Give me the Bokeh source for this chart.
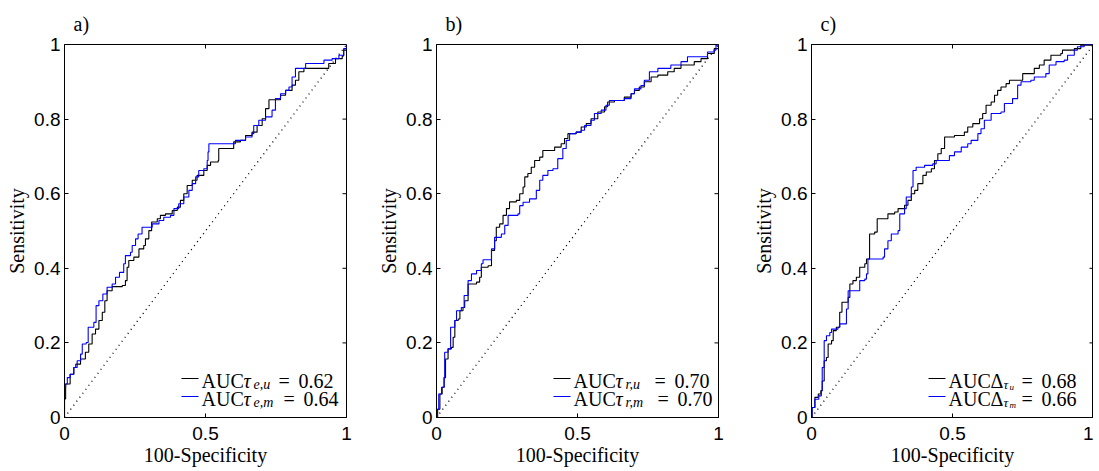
import math
from bokeh.plotting import figure
from bokeh.layouts import row
from bokeh.models import Range1d, FixedTicker, Label, Arrow
from bokeh.embed import file_html
from bokeh.resources import INLINE

# ---------------- data ----------------
x_ticks = [0, 0.5, 1]
x_tick_labels = ["0", "0.5", "1"]
y_ticks = [0, 0.2, 0.4, 0.6, 0.8, 1]
y_tick_labels = ["0", "0.2", "0.4", "0.6", "0.8", "1"]
chance_x = [0, 1]
chance_y = [0, 1]

panel_labels = ["a)", "b)", "c)"]
x_label = "100-Specificity"
y_label = "Sensitivity"

# panel a
a_u_fpr = [0, 0, 0.004, 0.01, 0.02, 0.033, 0.04, 0.057, 0.074, 0.086, 0.098, 0.11, 0.122, 0.134, 0.143,
           0.151, 0.169, 0.205, 0.216, 0.222, 0.228, 0.246, 0.264, 0.281, 0.287, 0.299, 0.309, 0.329, 0.34,
           0.358, 0.382, 0.4, 0.411, 0.423, 0.435, 0.453, 0.47, 0.494, 0.506, 0.518, 0.545, 0.547, 0.595,
           0.6, 0.624, 0.642, 0.665, 0.683, 0.701, 0.713, 0.725, 0.754, 0.766, 0.784, 0.807, 0.819, 0.831,
           0.849, 0.92, 0.937, 0.961, 0.985, 0.99, 1]
a_u_tpr = [0, 0.05, 0.09, 0.09, 0.116, 0.134, 0.143, 0.157, 0.175, 0.197, 0.224, 0.237, 0.26, 0.282, 0.313,
           0.34, 0.351, 0.354, 0.367, 0.403, 0.421, 0.43, 0.452, 0.461, 0.479, 0.501, 0.524, 0.533, 0.542,
           0.546, 0.555, 0.564, 0.582, 0.6, 0.622, 0.636, 0.649, 0.662, 0.676, 0.685, 0.689, 0.721, 0.721,
           0.739, 0.743, 0.756, 0.765, 0.783, 0.801, 0.828, 0.852, 0.852, 0.864, 0.877, 0.891, 0.904, 0.927,
           0.936, 0.936, 0.949, 0.962, 0.969, 0.985, 1]
a_m_fpr = [0, 0, 0.004, 0.01, 0.02, 0.033, 0.045, 0.057, 0.063, 0.077, 0.084, 0.104, 0.112, 0.122, 0.136,
           0.151, 0.169, 0.181, 0.195, 0.21, 0.216, 0.234, 0.24, 0.252, 0.261, 0.275, 0.311, 0.335, 0.352,
           0.376, 0.388, 0.405, 0.423, 0.441, 0.453, 0.465, 0.476, 0.494, 0.506, 0.509, 0.512, 0.595, 0.606,
           0.642, 0.665, 0.671, 0.689, 0.713, 0.736, 0.748, 0.766, 0.784, 0.796, 0.807, 0.819, 0.855, 0.908,
           0.92, 0.949, 0.973, 0.99, 1]
a_m_tpr = [0, 0.08, 0.09, 0.107, 0.116, 0.134, 0.152, 0.17, 0.197, 0.201, 0.242, 0.255, 0.3, 0.313, 0.331,
           0.349, 0.358, 0.376, 0.389, 0.412, 0.434, 0.443, 0.461, 0.479, 0.492, 0.51, 0.519, 0.528, 0.537,
           0.542, 0.56, 0.573, 0.591, 0.609, 0.627, 0.645, 0.662, 0.667, 0.689, 0.712, 0.734, 0.734, 0.743,
           0.752, 0.761, 0.783, 0.797, 0.806, 0.824, 0.855, 0.868, 0.877, 0.886, 0.913, 0.936, 0.949, 0.949,
           0.958, 0.962, 0.971, 0.989, 1]

# panel b
b_u_fpr = [0, 0.004, 0.012, 0.02, 0.027, 0.032, 0.041, 0.053, 0.059, 0.065, 0.077, 0.083, 0.094, 0.1, 0.112,
           0.142, 0.153, 0.159, 0.183, 0.195, 0.206, 0.212, 0.224, 0.236, 0.248, 0.259, 0.283, 0.295, 0.307,
           0.313, 0.324, 0.336, 0.348, 0.366, 0.377, 0.407, 0.419, 0.442, 0.454, 0.466, 0.495, 0.513, 0.531,
           0.548, 0.572, 0.596, 0.607, 0.631, 0.666, 0.69, 0.702, 0.719, 0.737, 0.761, 0.785, 0.82, 0.843,
           0.867, 0.914, 0.938, 0.961, 0.985, 1]
b_u_tpr = [0, 0.022, 0.063, 0.081, 0.107, 0.157, 0.184, 0.188, 0.215, 0.26, 0.264, 0.286, 0.295, 0.313, 0.358,
           0.363, 0.376, 0.403, 0.407, 0.448, 0.474, 0.51, 0.519, 0.542, 0.56, 0.578, 0.582, 0.6, 0.618,
           0.645, 0.654, 0.671, 0.689, 0.698, 0.716, 0.716, 0.725, 0.734, 0.748, 0.761, 0.765, 0.779, 0.788,
           0.801, 0.819, 0.833, 0.846, 0.85, 0.859, 0.868, 0.877, 0.886, 0.9, 0.913, 0.918, 0.927, 0.936,
           0.945, 0.954, 0.962, 0.976, 0.989, 1]
b_m_fpr = [0, 0.002, 0.008, 0.018, 0.027, 0.029, 0.041, 0.05, 0.065, 0.071, 0.088, 0.098, 0.112, 0.124, 0.142,
           0.159, 0.165, 0.189, 0.195, 0.206, 0.23, 0.242, 0.254, 0.289, 0.295, 0.307, 0.33, 0.354, 0.366,
           0.377, 0.395, 0.413, 0.43, 0.448, 0.46, 0.472, 0.495, 0.513, 0.525, 0.548, 0.56, 0.584, 0.601,
           0.613, 0.666, 0.69, 0.702, 0.725, 0.737, 0.755, 0.785, 0.831, 0.867, 0.89, 0.938, 0.961, 0.985,
           0.991, 1]
b_m_tpr = [0, 0.022, 0.063, 0.081, 0.107, 0.175, 0.184, 0.242, 0.26, 0.286, 0.295, 0.327, 0.367, 0.385, 0.394,
           0.412, 0.423, 0.423, 0.452, 0.483, 0.492, 0.515, 0.542, 0.546, 0.568, 0.577, 0.586, 0.609, 0.636,
           0.649, 0.662, 0.667, 0.694, 0.721, 0.743, 0.761, 0.765, 0.77, 0.783, 0.797, 0.815, 0.824, 0.837,
           0.85, 0.855, 0.868, 0.881, 0.89, 0.904, 0.927, 0.936, 0.945, 0.954, 0.967, 0.967, 0.98, 0.985,
           0.998, 1]

# panel c
c_u_fpr = [0, 0.002, 0.012, 0.024, 0.033, 0.038, 0.045, 0.053, 0.059, 0.071, 0.077, 0.088, 0.1, 0.108, 0.124,
           0.13, 0.136, 0.147, 0.159, 0.171, 0.189, 0.195, 0.206, 0.224, 0.233, 0.259, 0.271, 0.295, 0.307,
           0.33, 0.342, 0.354, 0.366, 0.377, 0.395, 0.407, 0.425, 0.436, 0.448, 0.46, 0.472, 0.507, 0.542,
           0.554, 0.572, 0.596, 0.607, 0.619, 0.637, 0.649, 0.66, 0.672, 0.69, 0.702, 0.743, 0.749, 0.778,
           0.79, 0.808, 0.825, 0.849, 0.884, 0.89, 0.932, 0.955, 1]
c_u_tpr = [0, 0.027, 0.054, 0.063, 0.072, 0.098, 0.152, 0.161, 0.197, 0.206, 0.233, 0.242, 0.282, 0.309, 0.309,
           0.322, 0.358, 0.367, 0.376, 0.403, 0.412, 0.425, 0.492, 0.497, 0.533, 0.533, 0.546, 0.551, 0.56,
           0.569, 0.582, 0.6, 0.609, 0.627, 0.649, 0.658, 0.667, 0.689, 0.707, 0.721, 0.752, 0.756, 0.765,
           0.779, 0.788, 0.801, 0.815, 0.837, 0.846, 0.864, 0.877, 0.886, 0.895, 0.904, 0.904, 0.922, 0.922,
           0.936, 0.945, 0.958, 0.971, 0.976, 0.985, 0.989, 0.998, 1]
c_m_fpr = [0, 0.002, 0.012, 0.026, 0.035, 0.038, 0.045, 0.053, 0.065, 0.071, 0.094, 0.1, 0.118, 0.124, 0.13,
           0.165, 0.171, 0.189, 0.195, 0.2, 0.254, 0.259, 0.271, 0.283, 0.307, 0.313, 0.33, 0.336, 0.348,
           0.354, 0.36, 0.371, 0.401, 0.43, 0.442, 0.478, 0.489, 0.507, 0.531, 0.554, 0.566, 0.587, 0.59,
           0.601, 0.613, 0.637, 0.672, 0.684, 0.713, 0.731, 0.743, 0.778, 0.79, 0.831, 0.843, 0.867, 0.896,
           0.908, 0.932, 0.943, 0.967, 1]
c_m_tpr = [0, 0.027, 0.049, 0.058, 0.072, 0.134, 0.206, 0.219, 0.228, 0.237, 0.242, 0.251, 0.251, 0.291, 0.34,
           0.34, 0.367, 0.371, 0.385, 0.425, 0.43, 0.452, 0.474, 0.492, 0.501, 0.546, 0.56, 0.591, 0.591,
           0.618, 0.662, 0.671, 0.676, 0.68, 0.689, 0.689, 0.702, 0.712, 0.725, 0.734, 0.743, 0.743, 0.761,
           0.774, 0.797, 0.815, 0.819, 0.842, 0.855, 0.891, 0.9, 0.904, 0.913, 0.922, 0.945, 0.954, 0.958,
           0.971, 0.985, 0.994, 1.0, 1]

# legend texts
legend_symbol = ["τ", "τ", "Δ"]
legend_subs = [["e,u", "e,m"], ["r,u", "r,m"], ["τ", "τ"]]
legend_subsubs = [["", ""], ["", ""], ["u", "m"]]
legend_auc = [["0.62", "0.64"], ["0.70", "0.70"], ["0.68", "0.66"]]

series_colors = ["#000000", "#0000ff"]

# ---------------- styling / layout ----------------
FRAME_W, FRAME_H = 282, 373
borders_left = [64, 80, 83]
borders_right = [10, 10, 0]
eq_offsets = [[97, 102], [101, 104], [93, 93]]
SERIF = "Liberation Serif"
SANS = "Liberation Sans"
TICK_LEN = 4


def make_panel(i, curves):
    p = figure(frame_width=FRAME_W, frame_height=FRAME_H,
               min_border_left=borders_left[i], min_border_right=borders_right[i],
               min_border_top=43, min_border_bottom=54,
               x_range=Range1d(0, 1), y_range=Range1d(0, 1),
               output_backend="svg", toolbar_location=None, tools="")
    p.background_fill_color = "white"
    p.border_fill_color = "white"
    p.grid.visible = False
    p.outline_line_color = "black"
    p.outline_line_width = 1

    xt = FixedTicker(ticks=x_ticks)
    yt = FixedTicker(ticks=y_ticks)
    for ax, tk, labs in ((p.xaxis[0], xt, x_tick_labels), (p.yaxis[0], yt, y_tick_labels)):
        ax.ticker = tk
        ax.major_label_overrides = {t: l for t, l in zip(tk.ticks, labs)}
        ax.major_tick_in = TICK_LEN
        ax.major_tick_out = 0
        ax.minor_tick_line_color = None
        ax.axis_line_color = "black"
        ax.major_label_text_font = SANS
        ax.major_label_text_font_size = "19px"
        ax.major_label_text_color = "black"
        ax.axis_label_text_font = SERIF
        ax.axis_label_text_font_size = "20px"
        ax.axis_label_text_font_style = "normal"
        ax.axis_label_text_color = "black"
    p.xaxis.major_label_standoff = 9
    p.yaxis.major_label_standoff = 4
    p.xaxis.axis_label = x_label
    p.yaxis.axis_label = y_label
    p.xaxis.axis_label_standoff = 1
    p.yaxis.axis_label_standoff = 3

    # inward ticks on the top and right edges of the box
    p.ray(x=x_ticks, y=p.y_range.end, length=TICK_LEN, length_units="screen",
          angle=-math.pi / 2, line_color="black", line_width=1)
    p.ray(x=p.x_range.end, y=y_ticks, length=TICK_LEN, length_units="screen",
          angle=math.pi, line_color="black", line_width=1)

    p.title.text = panel_labels[i]
    p.title.text_font = SERIF
    p.title.text_font_size = "20px"
    p.title.text_font_style = "normal"
    p.title.text_color = "black"
    p.title.align = "left"
    p.title.offset = 9
    p.title.standoff = 20

    p.line(chance_x, chance_y, line_color="black", line_width=1.3, line_dash="1 4")

    for (fx, ty), col in zip(curves, series_colors):
        p.step(fx, ty, mode="after", line_color=col, line_width=1.1)

    # legend (bottom right, no box)
    x0 = 117
    bases = [37, 19]
    for r in range(2):
        yb = bases[r]
        p.add_layout(Arrow(x_start=x0, y_start=yb + 2, x_end=x0 + 17, y_end=yb + 2,
                           start_units="screen", end_units="screen", start=None, end=None,
                           line_color=series_colors[r], line_width=1))

        def lab(text, dx, dy, size, style="normal"):
            p.add_layout(Label(x=x0 + dx, y=yb + dy, x_units="screen", y_units="screen",
                               text=text, text_font=SERIF, text_font_size=size,
                               text_font_style=style, text_color="black",
                               text_baseline="alphabetic", text_align="left"))
        lab("AUC", 20, 0, "20px")
        if legend_symbol[i] == "Δ":
            lab(legend_symbol[i], 62, 0, "20px")
            lab(legend_subs[i][r], 75, -4, "13px", "italic")
            lab(legend_subsubs[i][r], 81, -6, "9px", "italic")
        else:
            lab(legend_symbol[i], 62, 0, "20px", "italic")
            lab(legend_subs[i][r], 72, -4, "14px", "italic")
        lab("=", eq_offsets[i][r], 0, "20px")
        lab(legend_auc[i][r], eq_offsets[i][r] + 20, 0, "20px")
    return p


all_curves = [
    [(a_u_fpr, a_u_tpr), (a_m_fpr, a_m_tpr)],
    [(b_u_fpr, b_u_tpr), (b_m_fpr, b_m_tpr)],
    [(c_u_fpr, c_u_tpr), (c_m_fpr, c_m_tpr)],
]

plots = [make_panel(i, c) for i, c in enumerate(all_curves)]
layout = row(*plots)

open("out.html", "w").write(file_html(layout, INLINE))
